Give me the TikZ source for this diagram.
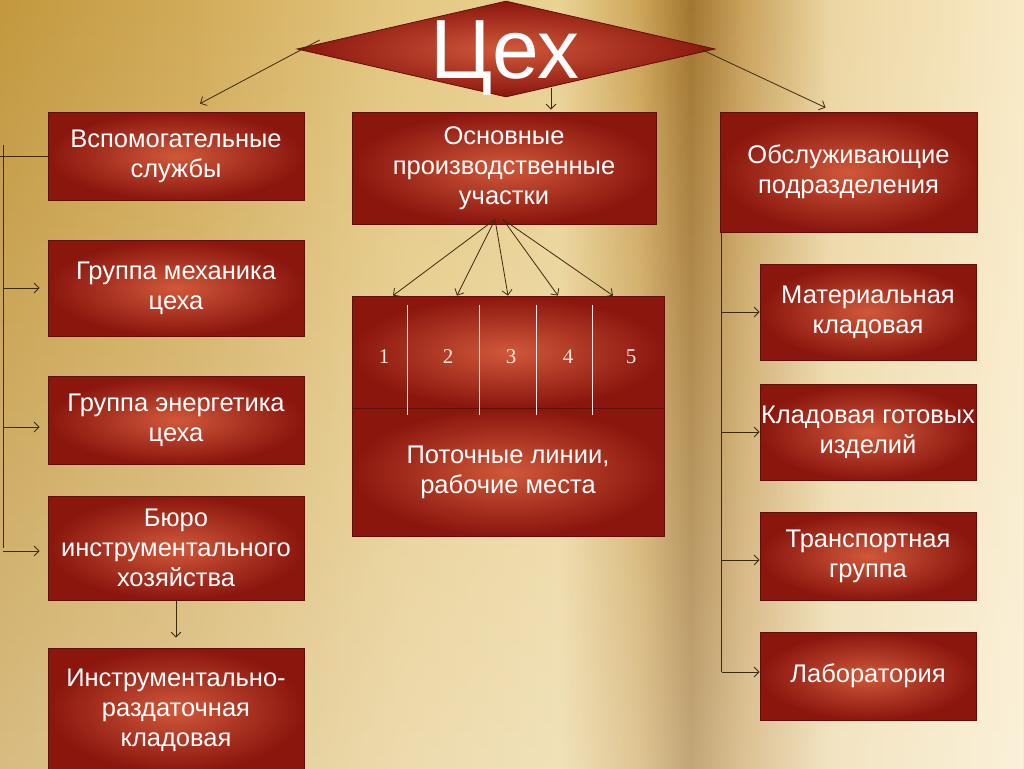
\documentclass[tikz,border=0pt]{standalone}
\usepackage{fontspec}
\setmainfont{Liberation Sans}
\newfontfamily\numfont{Liberation Serif}
\usetikzlibrary{arrows.meta,shapes.geometric,fadings}
\definecolor{boxin}{RGB}{208,88,58}
\definecolor{boxout}{RGB}{138,22,14}
\definecolor{boxedge}{RGB}{95,15,8}
\definecolor{linec}{RGB}{60,42,12}
\definecolor{numc}{RGB}{245,232,222}
\definecolor{bg0}{RGB}{195,152,62}
\definecolor{bg1}{RGB}{210,172,90}
\definecolor{bg2}{RGB}{228,200,130}
\definecolor{bg3}{RGB}{234,210,148}
\definecolor{bg4}{RGB}{205,165,88}
\definecolor{bg5}{RGB}{162,118,48}
\definecolor{bg6}{RGB}{200,160,90}
\definecolor{bg7}{RGB}{236,214,162}
\definecolor{bg8}{RGB}{249,234,198}
\tikzset{
  box/.style={rectangle, draw=boxedge, line width=0.8pt,
    inner color=boxin, outer color=boxout, text=white, align=center,
    font=\fontsize{25.5}{30}\selectfont, inner sep=0pt},
  arr/.style={draw=linec, line width=0.8pt, -{Straight Barb[length=5pt,width=10pt]}},
  bus/.style={draw=linec, line width=0.8pt},
  wline/.style={draw=white!90!red, line width=0.8pt},
  num/.style={text=numc, font=\numfont\fontsize{21}{24}\selectfont, inner sep=0pt}
}
\begin{document}
\begin{tikzpicture}[x=1pt,y=-1pt]
\useasboundingbox (0,0) rectangle (1024,768);
\shade[left color=bg0, right color=bg1] (0,0) rectangle (201,768);
\shade[left color=bg1, right color=bg2] (200,0) rectangle (401,768);
\shade[left color=bg2, right color=bg3] (400,0) rectangle (561,768);
\shade[left color=bg3, right color=bg4] (560,0) rectangle (641,768);
\shade[left color=bg4, right color=bg5] (640,0) rectangle (691,768);
\shade[left color=bg5, right color=bg6] (690,0) rectangle (741,768);
\shade[left color=bg6, right color=bg7] (740,0) rectangle (831,768);
\shade[left color=bg7, right color=bg8] (830,0) rectangle (1024,768);
\fill[white, path fading=north, fill opacity=0.35] (0,0) rectangle (1024,768);

% diamond
\node[diamond, draw=boxedge, line width=0.8pt, inner color=boxin, outer color=boxout,
  minimum width=418, minimum height=96, inner sep=0pt] (ceh) at (506,49) {};
\node[anchor=base, text=white, font=\fontsize{84}{90}\selectfont, inner sep=0pt] (cehlabel) at (505,78) {Цех};

% top row
\node[box, minimum width=256, minimum height=88] (A) at (176,156) {Вспомогательные\\службы};
\node[box, minimum width=304, minimum height=112] (B) at (504,168) {Основные\\производственные\\участки};
\node[box, minimum width=257, minimum height=120] (C) at (848.5,172) {Обслуживающие\\подразделения};

% left column
\node[box, minimum width=256, minimum height=96] (L1) at (176,288) {Группа механика\\цеха};
\node[box, minimum width=256, minimum height=88] (L2) at (176,420) {Группа энергетика\\цеха};
\node[box, minimum width=256, minimum height=104] (L3) at (176,548) {Бюро\\инструментального\\хозяйства};
\node[box, minimum width=256, minimum height=124] (L4) at (176,710) {Инструментально-\\раздаточная\\кладовая};

% right column
\node[box, minimum width=216, minimum height=96] (R1) at (868,312) {Материальная\\кладовая};
\node[box, minimum width=216, minimum height=96] (R2) at (868,432) {Кладовая готовых\\изделий};
\node[box, minimum width=216, minimum height=88] (R3) at (868,556) {Транспортная\\группа};
\node[box, minimum width=216, minimum height=88] (R4) at (868,676) {Лаборатория};

% centre
\node[box, minimum width=312, minimum height=112] (top) at (508,352) {};
\node[box, minimum width=312, minimum height=128] (flow) at (508,472) {Поточные линии,\\рабочие места};
\foreach \dx in {56,128,185,241}{
  \draw[wline] ([shift={(\dx,9)}]top.north west) -- ([shift={(\dx,7)}]top.south west);
}
\node[num] (n1) at (384,357) {1};
\node[num] (n2) at (448,357) {2};
\node[num] (n3) at (511,357) {3};
\node[num] (n4) at (568,357) {4};
\node[num] (n5) at (631,357) {5};

% connectors from diamond
\draw[arr] ([shift={(23,-9)}]ceh.west) -- ([shift={(24,-8)}]A.north);
\draw[arr] ([shift={(-13,1)}]ceh.east) -- ([shift={(-23,-4)}]C.north);
\draw[arr] ([shift={(45,-9)}]ceh.south) -- ([shift={(47,-2)}]B.north);

% fan
\coordinate (s1) at ([shift={(-9,-5)}]B.south);
\coordinate (s2) at ([shift={(-1,-5)}]B.south);
\draw[arr] (s1) -- ([xshift=-115]top.north);
\draw[arr] (s1) -- ([xshift=-51]top.north);
\draw[arr] (s1) -- ([xshift=0]top.north);
\draw[arr] (s2) -- ([xshift=50]top.north);
\draw[arr] (s2) -- ([xshift=105]top.north);

% left bus
\coordinate (lbt) at (3,145);
\draw[bus] (A.west) -- (0,156);
\draw[bus] (lbt) -- (lbt |- L3.west);
\draw[arr, shorten >=8pt] (lbt |- L1.west) -- (L1.west);
\draw[arr, shorten >=8pt] ([yshift=-7]lbt |- L2.west) -- ([yshift=-7]L2.west);
\draw[arr, shorten >=8pt] ([yshift=-3]lbt |- L3.west) -- ([yshift=-3]L3.west);
\draw[arr, shorten >=10pt] (L3.south) -- (L4.north);

% right bus
\coordinate (rbt) at ([xshift=2]C.south west);
\draw[bus] (rbt) -- ([yshift=4]rbt |- R4.west);
\draw[arr] (rbt |- R1.west) -- (R1.west);
\draw[arr] (rbt |- R2.west) -- (R2.west);
\draw[arr] ([yshift=-4]rbt |- R3.west) -- ([yshift=-4]R3.west);
\draw[arr] ([yshift=4]rbt |- R4.west) -- ([yshift=4]R4.west);
\end{tikzpicture}
\end{document}
